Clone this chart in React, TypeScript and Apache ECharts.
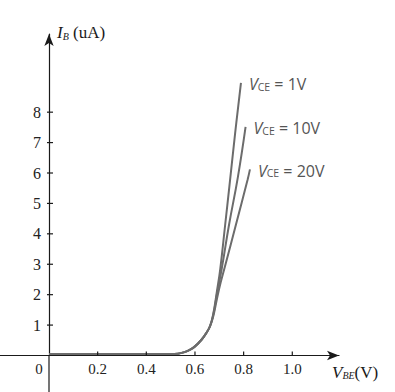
import React, { useEffect, useRef } from "react";
import * as echarts from "echarts";

const seriesNames = ["1V", "10V", "20V"];

const vbe1V = [0, 0.5, 0.53, 0.56, 0.58, 0.6, 0.626, 0.645, 0.662, 0.675, 0.69, 0.704, 0.724, 0.742, 0.765, 0.789];
const ib1V = [0.05, 0.05, 0.06, 0.12, 0.19, 0.3, 0.51, 0.72, 0.97, 1.36, 2.1, 2.85, 4.29, 5.6, 7.3, 8.96];

const vbe10V = [0, 0.5, 0.53, 0.56, 0.58, 0.6, 0.626, 0.645, 0.662, 0.675, 0.69, 0.711, 0.74, 0.776, 0.808];
const ib10V = [0.05, 0.05, 0.06, 0.12, 0.19, 0.3, 0.51, 0.72, 0.97, 1.33, 2.0, 2.9, 4.3, 5.85, 7.52];

const vbe20V = [0, 0.5, 0.53, 0.56, 0.58, 0.6, 0.626, 0.645, 0.662, 0.675, 0.69, 0.705, 0.724, 0.768, 0.816, 0.826];
const ib20V = [0.05, 0.05, 0.06, 0.12, 0.19, 0.3, 0.51, 0.72, 0.96, 1.28, 1.85, 2.38, 2.95, 4.29, 5.77, 6.12];

const xTickValues = [0.2, 0.4, 0.6, 0.8, 1.0];
const yTickValues = [1, 2, 3, 4, 5, 6, 7, 8];

const SERIF = "'Liberation Serif', 'Times New Roman', serif";
const SANS = "'Open Sans', 'Noto Sans', sans-serif";
const AXIS_COLOR = "#1a1a1a";

function zip(xs: number[], ys: number[]) {
  return xs.map((x, i) => [x, ys[i]]);
}

export default function App() {
  const ref = useRef<HTMLDivElement>(null);
  useEffect(() => {
    if (!ref.current) return;
    const chart = echarts.init(ref.current, undefined, { renderer: "svg" });
    const datasets = [zip(vbe1V, ib1V), zip(vbe10V, ib10V), zip(vbe20V, ib20V)];
    const richLabel = (fill: string) => ({
      i: { fontFamily: SERIF, fontStyle: "italic", fontSize: 17, fill, verticalAlign: "bottom", lineHeight: 20 },
      b: { fontFamily: SERIF, fontStyle: "italic", fontSize: 10, fill, verticalAlign: "bottom", lineHeight: 14 },
      u: { fontFamily: SERIF, fontSize: 17, fill, verticalAlign: "bottom", lineHeight: 20 },
    });
    const tickSeries = (values: number[], horizontal: boolean) => ({
      type: "custom",
      silent: true,
      z: 5,
      clip: false,
      data: values.map((v) => (horizontal ? [v, 0] : [0, v])),
      renderItem: (params: any, api: any) => {
        const p = api.coord([api.value(0), api.value(1)]);
        const shape = horizontal
          ? { x1: p[0], y1: p[1], x2: p[0], y2: p[1] - 4 }
          : { x1: p[0] - 2, y1: p[1], x2: p[0] + 4, y2: p[1] };
        return { type: "line", shape, style: { stroke: AXIS_COLOR, lineWidth: 1.2 } };
      },
    });
    chart.setOption({
      animation: false,
      backgroundColor: "#ffffff",
      grid: { left: 49, right: 56, top: 34, bottom: 36.5, containLabel: false, outerBoundsMode: "none" },
      xAxis: {
        type: "value",
        min: 0,
        max: 1.192,
        axisLine: {
          onZero: false,
          lineStyle: { color: AXIS_COLOR, width: 1.2 },
          symbol: ["none", "arrow"],
          symbolSize: [7, 12],
        },
        axisTick: { show: false },
        axisLabel: {
          customValues: xTickValues,
          formatter: (v: number) => v.toFixed(1),
          fontFamily: SERIF,
          fontSize: 15,
          color: "#222",
          margin: 6,
        },
        splitLine: { show: false },
      },
      yAxis: {
        type: "value",
        min: 0,
        max: 10.57,
        axisLine: {
          onZero: false,
          lineStyle: { color: AXIS_COLOR, width: 1.2 },
          symbol: ["none", "arrow"],
          symbolSize: [7, 12],
        },
        axisTick: { show: false },
        axisLabel: {
          customValues: yTickValues,
          fontFamily: SERIF,
          fontSize: 16,
          color: "#222",
          margin: 8,
        },
        splitLine: { show: false },
      },
      series: [
        ...seriesNames.map((name, i) => ({
          name,
          type: "line",
          data: datasets[i],
          showSymbol: false,
          smooth: 0.45,
          lineStyle: { color: "#6c6c6c", width: 2 },
          endLabel: {
            show: true,
            distance: 8,
            formatter: () => `{v|V}{s|CE}{t| = ${name}}`,
            rich: {
              v: { fontFamily: SANS, fontStyle: "italic", fontSize: 16, color: "#555", verticalAlign: "bottom", lineHeight: 19 },
              s: { fontFamily: SANS, fontSize: 10.5, color: "#555", verticalAlign: "bottom", lineHeight: 15 },
              t: { fontFamily: SANS, fontSize: 16, color: "#555", verticalAlign: "bottom", lineHeight: 19 },
            },
          },
        })),
        tickSeries(xTickValues, true),
        tickSeries(yTickValues, false),
      ],
    });
    const o = chart.convertToPixel({ gridIndex: 0 }, [0, 0]) as number[];
    chart.setOption({
      graphic: [
        {
          type: "line",
          shape: { x1: 0, y1: o[1], x2: o[0], y2: o[1] },
          style: { stroke: AXIS_COLOR, lineWidth: 1.2 },
        },
        {
          type: "line",
          shape: { x1: o[0], y1: o[1], x2: o[0], y2: 392 },
          style: { stroke: AXIS_COLOR, lineWidth: 1.2 },
        },
        {
          type: "text",
          x: o[0] + 8,
          y: 21,
          style: { text: "{i|I}{b|B}{u| (uA)}", rich: richLabel("#1a1a1a") },
        },
        {
          type: "text",
          x: 332,
          y: o[1] + 5,
          style: { text: "{i|V}{b|BE}{u|(V)}", rich: richLabel("#1a1a1a") },
        },
        {
          type: "text",
          x: o[0] - 10,
          y: o[1] + 13,
          style: {
            text: "0",
            fontFamily: SERIF,
            fontSize: 15,
            fill: "#222",
            align: "center",
            verticalAlign: "middle",
          },
        },
      ],
    });
    return () => chart.dispose();
  }, []);
  return <div ref={ref} style={{ width: 395, height: 392, position: "absolute", left: 0, top: 0 }} />;
}
